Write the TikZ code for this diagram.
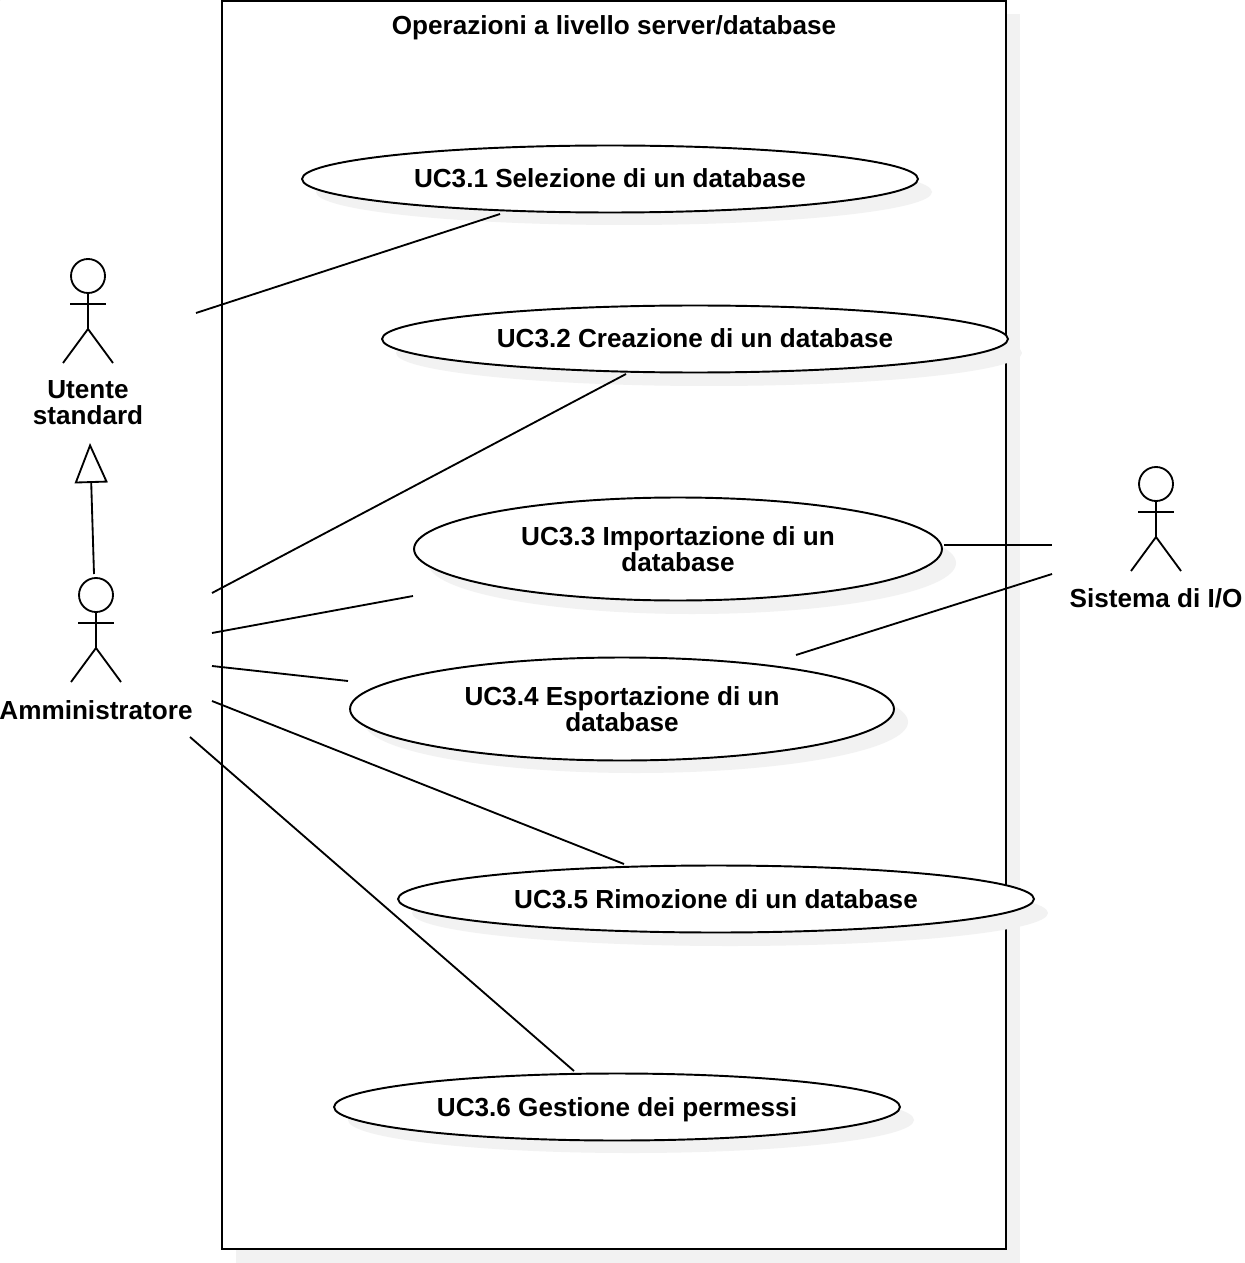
\documentclass[tikz,border=0pt]{standalone}
\usepackage{fontspec}
\setmainfont{Liberation Sans}
\usetikzlibrary{arrows.meta,shapes.geometric}
\definecolor{shadowgray}{gray}{0.95}
\tikzset{
  label/.style={font=\fontsize{14.87pt}{14.8pt}\selectfont\bfseries,align=center,inner sep=0pt},
  usecase/.style={draw,fill=white,ellipse,inner sep=0pt,line width=1.1pt},
  umlline/.style={line width=1.05pt},
  shade/.style={fill=shadowgray,draw=none},
}
\begin{document}
\begin{tikzpicture}[x=0.02cm,y=-0.02cm]
      \useasboundingbox (0,0) rectangle (1244,1263);

      % system boundary
      \fill[shade] (236,14) rectangle (1020,1263);
      \fill[white] (222,1) rectangle (1006,1249);
      \node[draw,line width=1.2pt,minimum width=15.68cm,minimum height=24.96cm,inner sep=0pt] (system) at (614,625) {};
      \node[label,anchor=base] (title) at (614,35) {Operazioni a livello server/database};

      % use cases
      \foreach \p/\rx/\ry in {
            (624,192)/308/33,
            (709,353)/313/33,
            (692,563)/264/51,
            (636,722)/272/51,
            (730,913)/318/33,
            (631,1120)/283/33,
        } {
        \fill[shade] \p ellipse[x radius=\rx,y radius=\ry];
      }
      \node[usecase,minimum width=12.32cm,minimum height=1.34cm] (uc1) at (610,179) {};
      \node[usecase,minimum width=12.52cm,minimum height=1.34cm] (uc2) at (695,339) {};
      \node[usecase,minimum width=10.56cm,minimum height=2.06cm] (uc3) at (678,549) {};
      \node[usecase,minimum width=10.88cm,minimum height=2.06cm] (uc4) at (622,709) {};
      \node[usecase,minimum width=12.72cm,minimum height=1.34cm] (uc5) at (716,899) {};
      \node[usecase,minimum width=11.32cm,minimum height=1.34cm] (uc6) at (617,1107) {};
      \node[label,anchor=base] (uc1text) at (610,188) {UC3.1 Selezione di un database};
      \node[label,anchor=base] (uc2text) at (695,348) {UC3.2 Creazione di un database};
      \node[label] (uc3text) at (678,549) {UC3.3 Importazione di un\\database};
      \node[label] (uc4text) at (622,709) {UC3.4 Esportazione di un\\database};
      \node[label,anchor=base] (uc5text) at (716,908) {UC3.5 Rimozione di un database};
      \node[label,anchor=base] (uc6text) at (617,1116) {UC3.6 Gestione dei permessi};

      % actors
      \foreach \n/\x/\y in {utente/88/259,admin/96/578,sistema/1156/467} {
        \draw[umlline] (\x,\y+17) circle[radius=17];
        \draw[umlline] (\x,\y+34) -- (\x,\y+70);
        \draw[umlline] (\x-18,\y+45) -- (\x+18,\y+45);
        \draw[umlline] (\x-25,\y+104) -- (\x,\y+70) -- (\x+25,\y+104);
        \coordinate (\n) at (\x,\y);
      }
      \node[label] (utentelabel) at (88,403) {Utente\\standard};
      \node[label] (adminlabel) at (96,710) {Amministratore};
      \node[label] (sistemalabel) at (1156,598) {Sistema di I/O};

      % free ends next to the actors
      \coordinate (utenteR) at (196,313);
      \coordinate (adminA) at (212,593);
      \coordinate (adminB) at (212,633);
      \coordinate (adminC) at (212,666);
      \coordinate (adminD) at (212,701);
      \coordinate (adminE) at (190,737);
      \coordinate (sistemaA) at (1052,545);
      \coordinate (sistemaB) at (1052,574);
      \coordinate (endA) at (500,214);
      \coordinate (endB) at (626,374);
      \coordinate (endC) at (413,596);
      \coordinate (endD) at (348,681);
      \coordinate (endE) at (624,864);
      \coordinate (endF) at (574,1071);
      \coordinate (endG) at (944,545);
      \coordinate (endH) at (796,655);
      \coordinate (genA) at (94,574);
      \coordinate (genB) at (90,443);

      \draw[umlline] (utenteR) -- (endA);
      \draw[umlline] (adminA) -- (endB);
      \draw[umlline] (adminB) -- (endC);
      \draw[umlline] (adminC) -- (endD);
      \draw[umlline] (adminD) -- (endE);
      \draw[umlline] (adminE) -- (endF);
      \draw[umlline] (endG) -- (sistemaA);
      \draw[umlline] (endH) -- (sistemaB);
      \draw[umlline,-{Triangle[open,fill=white,length=0.8cm,width=0.66cm]}] (genA) -- (genB);
\end{tikzpicture}
\end{document}
